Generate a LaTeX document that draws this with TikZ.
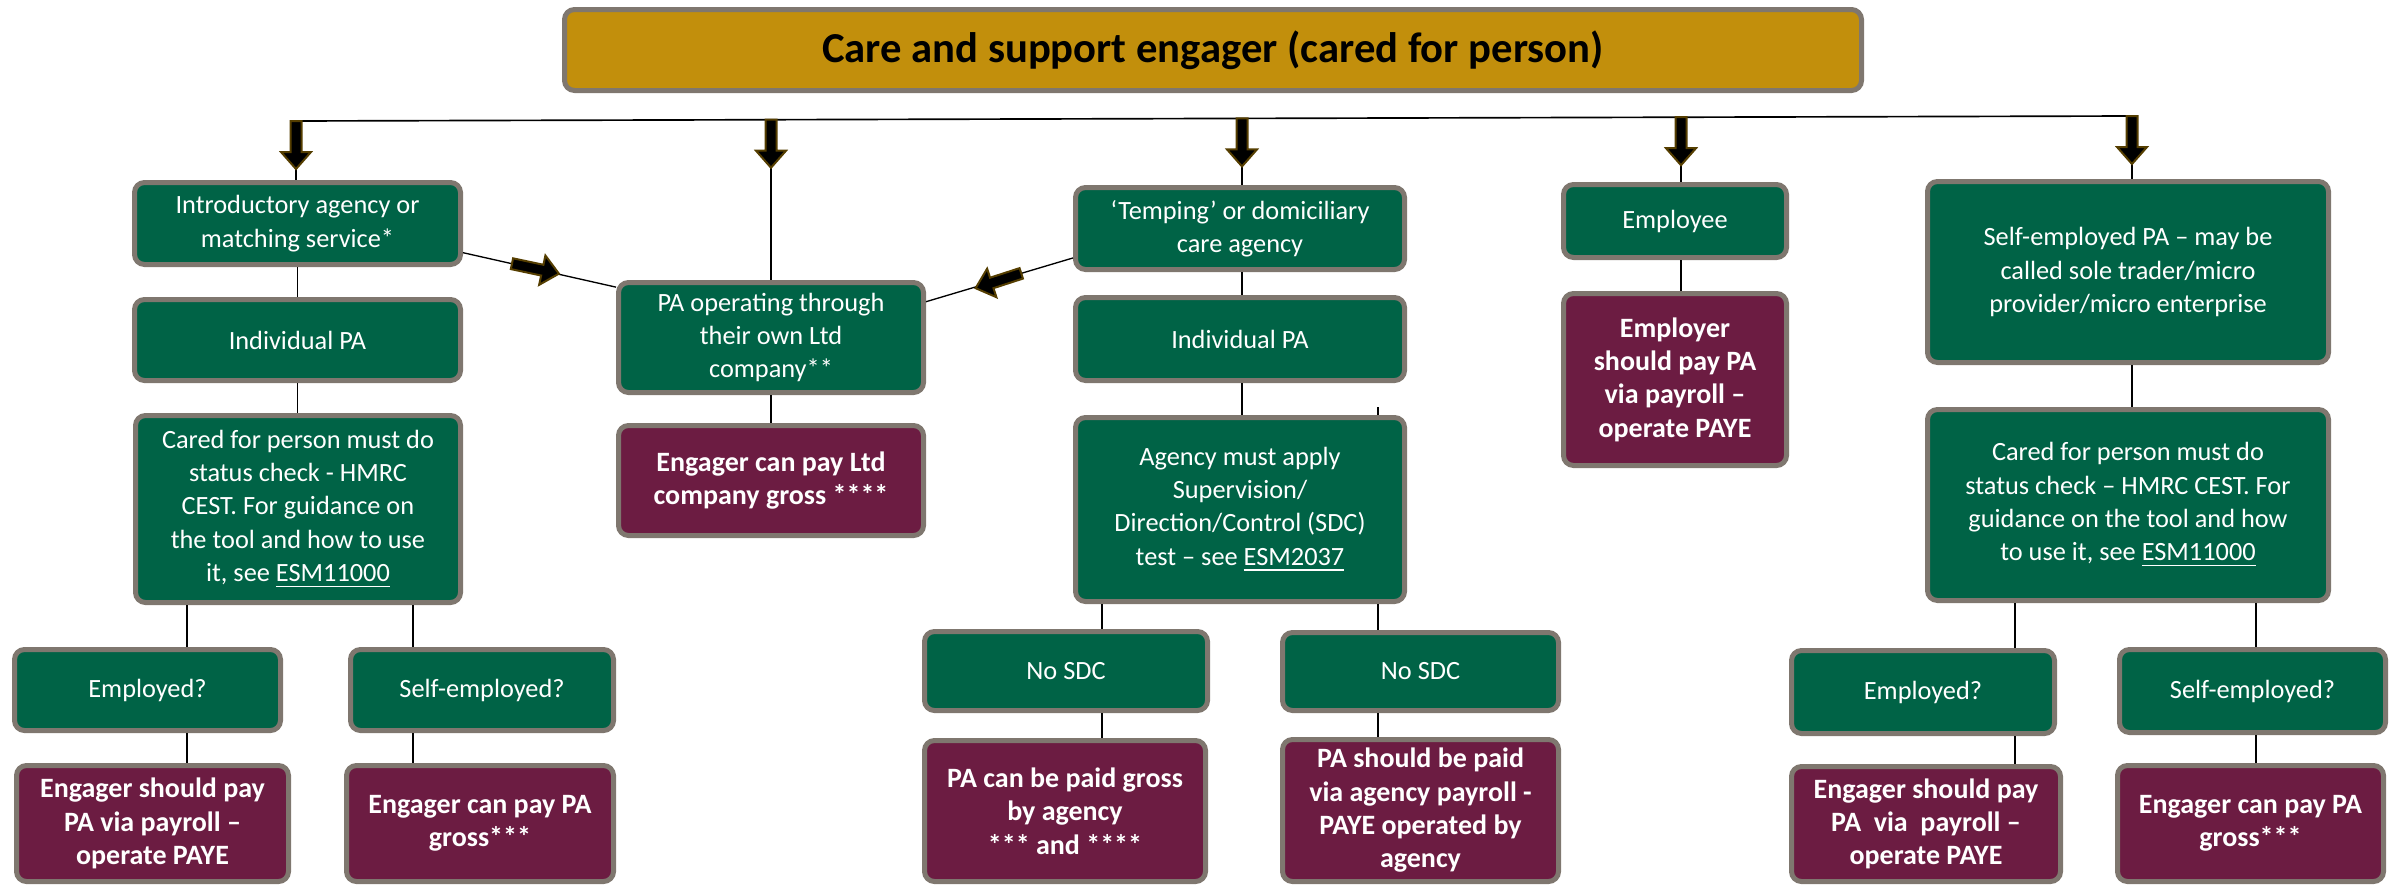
\documentclass[tikz,border=0pt]{standalone}
\usepackage{fontspec}
\setmainfont{Carlito}
\usetikzlibrary{calc}
\definecolor{boxgreen}{RGB}{0,99,70}
\definecolor{boxred}{RGB}{108,28,66}
\definecolor{boxgray}{RGB}{127,119,111}
\definecolor{titlegold}{RGB}{194,143,12}
\definecolor{arrowbrown}{RGB}{85,62,0}
\tikzset{
 base/.style={draw=boxgray, line width=1.5pt, rounded corners=3pt, align=center, inner sep=0pt, text=white},
 gbox/.style={base, fill=boxgreen, font=\fontsize{7.9}{10}\selectfont},
 rbox/.style={base, fill=boxred, font=\fontsize{8.4}{10}\selectfont\bfseries},
 tbox/.style={base, fill=titlegold, text=black, font=\fontsize{12.8}{15}\selectfont\bfseries},
 conn/.style={draw=black, line width=0.4pt},
 barrow/.pic={\filldraw[fill=black, draw=arrowbrown, line width=0.6pt, line join=miter] (0,-5.5) -- (31,-5.5) -- (31,-15) -- (48,0) -- (31,15) -- (31,5.5) -- (0,5.5) -- cycle;}
}
\newcommand\bx[7]{\node[#2, minimum width={(#5-#3-5)*0.3pt}, minimum height={(#6-#4-5)*0.3pt}] (#1) at ({(#3+#5)/2},{(#4+#6)/2}) {#7};}
\begin{document}
\begin{tikzpicture}[x=0.3pt,y=-0.3pt]
\useasboundingbox (0,0) rectangle (2400,886);
% boxes
\bx{title}{tbox}{562}{7}{1864}{93}{Care and support engager (cared for person)}
\bx{intro}{gbox}{132}{180}{463}{267}{Introductory agency or\\matching service*}
\bx{ipa1}{gbox}{132}{297}{463}{383}{Individual PA}
\bx{cest1}{gbox}{133}{413}{463}{605}{Cared for person must do\\status check - HMRC\\CEST. For guidance on\\the tool and how to use\\it, see \underline{ESM11000}}
\bx{emp1}{gbox}{12}{647}{283}{733}{Employed?}
\bx{self1}{gbox}{348}{647}{616}{733}{Self-employed?}
\bx{res1a}{rbox}{14}{763}{291}{884}{Engager should pay\\PA via payroll –\\operate PAYE}
\bx{res1b}{rbox}{344}{763}{616}{884}{Engager can pay PA\\gross***}
\bx{ltd}{gbox}{616}{280}{926}{395}{PA operating through\\their own Ltd\\company**}
\bx{ltdres}{rbox}{616}{423}{926}{538}{Engager can pay Ltd\\company gross ****}
\bx{temp}{gbox}{1073}{185}{1407}{272}{‘Temping’ or domiciliary\\care agency}
\bx{ipa2}{gbox}{1073}{295}{1407}{383}{Individual PA}
\bx{sdc}{gbox}{1073}{415}{1407}{604}{Agency must apply\\Supervision/\\Direction/Control (SDC)\\test – see \underline{ESM2037}}
\bx{nosdc1}{gbox}{922}{629}{1210}{713}{No SDC}
\bx{nosdc2}{gbox}{1280}{630}{1561}{713}{No SDC}
\bx{res2a}{rbox}{922}{738}{1208}{884}{PA can be paid gross\\by agency\\*** and ****}
\bx{res2b}{rbox}{1280}{737}{1561}{884}{PA should be paid\\via agency payroll -\\PAYE operated by\\agency}
\bx{employee}{gbox}{1561}{182}{1789}{260}{Employee}
\bx{employer}{rbox}{1561}{291}{1789}{468}{Employer\\should pay PA\\via payroll –\\operate PAYE}
\bx{selfpa}{gbox}{1925}{179}{2331}{365}{Self-employed PA – may be\\called sole trader/micro\\provider/micro enterprise}
\bx{cest2}{gbox}{1925}{407}{2331}{603}{Cared for person must do\\status check – HMRC CEST. For\\guidance on the tool and how\\to use it, see \underline{ESM11000}}
\bx{emp2}{gbox}{1789}{648}{2057}{736}{Employed?}
\bx{self2}{gbox}{2117}{647}{2388}{735}{Self-employed?}
\bx{res3a}{rbox}{1789}{764}{2063}{884}{Engager should pay\\PA\ \ via\ \ payroll –\\operate PAYE}
\bx{res3b}{rbox}{2115}{763}{2386}{884}{Engager can pay PA\\gross***}
% bus and arrows
\coordinate (b1) at (296,121);
\coordinate (b2) at (771,119.7);
\coordinate (b3) at (1242,118.4);
\coordinate (b4) at (1681,117.2);
\coordinate (b5) at (2132,116);
\coordinate (t1) at (296,169);
\coordinate (t2) at (771,167.7);
\coordinate (t3) at (1242,166.4);
\coordinate (t4) at (1681,165.2);
\coordinate (t5) at (2132,164);
\coordinate (xa) at (187,0);
\coordinate (xb) at (413,0);
\coordinate (xc) at (1102,0);
\coordinate (xd) at (1378,0);
\coordinate (xe) at (2015,0);
\coordinate (xf) at (2256,0);
\draw[conn, line width=0.5pt] (b1) -- (b5);
\draw[conn] (t1) -- (t1 |- intro.north);
\draw[conn] (t2) -- (t2 |- ltd.north);
\draw[conn] (t3) -- (t3 |- temp.north);
\draw[conn] (t4) -- (t4 |- employee.north);
\draw[conn] (t5) -- (t5 |- selfpa.north);
\foreach \b in {b1,b2,b3,b4,b5} {\pic[rotate=-90] at (\b) {barrow};}
% column 1
\draw[conn] (intro.south) -- (intro.south |- ipa1.north);
\draw[conn] (ipa1.south) -- (ipa1.south |- cest1.north);
\draw[conn] (xa |- cest1.south) -- (xa |- emp1.north);
\draw[conn] (xa |- emp1.south) -- (xa |- res1a.north);
\draw[conn] (xb |- cest1.south) -- (xb |- self1.north);
\draw[conn] (xb |- self1.south) -- (xb |- res1b.north);
% column 2
\draw[conn] (ltd.south) -- (ltdres.north);
\draw[conn] (intro.-10) -- (ltd.162);
\draw[conn] (temp.190) -- (ltd.13);
\pic[rotate=-12] at ($(intro.-10)!0.32!(ltd.162)$) {barrow};
\pic[rotate=198] at ($(ltd.13)!0.648!(temp.190)$) {barrow};
% column 3
\draw[conn] (t3 |- temp.south) -- (t3 |- ipa2.north);
\draw[conn] (t3 |- ipa2.south) -- (t3 |- sdc.north);
\draw[conn] (xc |- sdc.south) -- (xc |- nosdc1.north);
\draw[conn] (xc |- nosdc1.south) -- (xc |- res2a.north);
\draw[conn] (xd |- sdc.south) -- (xd |- nosdc2.north);
\draw[conn] (xd |- nosdc2.south) -- (xd |- res2b.north);
\draw[conn] (xd |- sdc.north) -- ++(0,-8);
% column 4
\draw[conn] (t4 |- employee.south) -- (t4 |- employer.north);
% column 5
\draw[conn] (t5 |- selfpa.south) -- (t5 |- cest2.north);
\draw[conn] (xe |- cest2.south) -- (xe |- emp2.north);
\draw[conn] (xe |- emp2.south) -- (xe |- res3a.north);
\draw[conn] (xf |- cest2.south) -- (xf |- self2.north);
\draw[conn] (xf |- self2.south) -- (xf |- res3b.north);
\end{tikzpicture}
\end{document}
